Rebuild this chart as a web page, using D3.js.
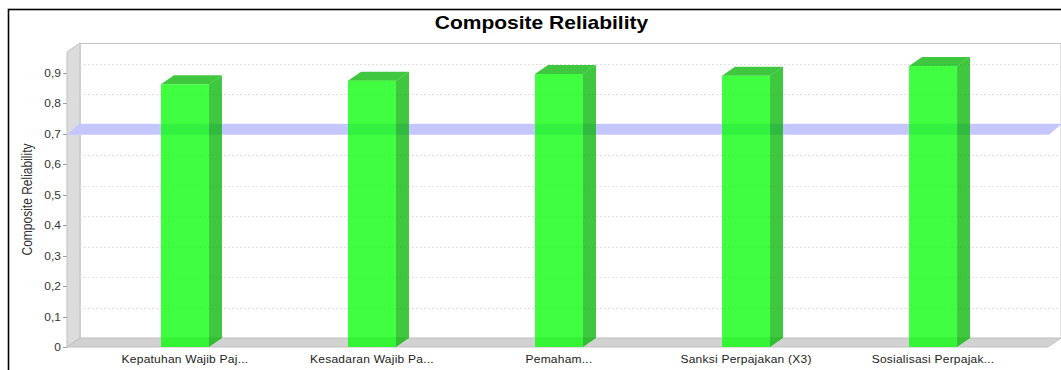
<!DOCTYPE html>
<html>
<head>
<meta charset="utf-8">
<script src="https://cdn.jsdelivr.net/npm/d3@7/dist/d3.min.js"></script>
<style>
  html, body { margin: 0; padding: 0; background: #fff; }
  svg { display: block; }
  text { font-family: "Liberation Sans", Arial, sans-serif; }
</style>
</head>
<body>
<svg id="chart" width="1061" height="370"></svg>
<script>
// Chart data
const categories = [
  "Kepatuhan Wajib Paj...",
  "Kesadaran Wajib Pa...",
  "Pemaham...",
  "Sanksi Perpajakan (X3)",
  "Sosialisasi Perpajak..."
];
const values = [0.862, 0.874, 0.896, 0.890, 0.922];
const yTicks = [0, 0.1, 0.2, 0.3, 0.4, 0.5, 0.6, 0.7, 0.8, 0.9];
const threshold = 0.7;
const title = "Composite Reliability";
const yLabel = "Composite Reliability";

// Layout
const W = 1061, H = 370;
const depthX = 13, depthY = 9;          // 3D offset of the back wall
const front = { left: 67, right: 1048, top: 52, bottom: 347 };
const stretch = 1.2;                     // horizontal glyph stretch of labels
const barWidth = 48;

const svg = d3.select("#chart");

const y = d3.scaleLinear().domain([0, 0.968]).range([front.bottom, front.top]);
const x = d3.scalePoint().domain(categories).range([69, 1049]).padding(0.62);

const fmt = v => v === 0 ? "0" : d3.format(".1f")(v).replace(".", ",");

// Outer frame
svg.append("rect")
  .attr("x", 8.5).attr("y", 9.5)
  .attr("width", W + 20).attr("height", H + 20)
  .attr("fill", "none").attr("stroke", "#000").attr("stroke-width", 1.6);

// Title
svg.append("text")
  .attr("transform", `translate(541.5,29) scale(${stretch},1)`)
  .attr("text-anchor", "middle")
  .attr("font-size", 17.5).attr("font-weight", "bold").attr("fill", "#000")
  .text(title);

// Back wall
const bx0 = front.left + depthX, bx1 = front.right + depthX;
const by0 = front.top - depthY, by1 = front.bottom - depthY;
svg.append("rect")
  .attr("x", bx0).attr("y", by0 + 0.5)
  .attr("width", bx1 - bx0).attr("height", by1 - by0)
  .attr("fill", "#fff").attr("stroke", "#c4c4c4").attr("stroke-width", 1);

// Left wall
svg.append("path")
  .attr("d", d3.line()([
    [front.left, front.top], [bx0, by0], [bx0, by1], [front.left, front.bottom]
  ]) + "Z")
  .attr("fill", "#dcdcdc").attr("stroke", "#c0c0c0").attr("stroke-width", 1);

// Floor
svg.append("path")
  .attr("d", d3.line()([
    [front.left, front.bottom], [bx0, by1], [bx1, by1], [front.right, front.bottom]
  ]) + "Z")
  .attr("fill", "#d2d2d2").attr("stroke", "#c0c0c0").attr("stroke-width", 1);

// Gridlines on back wall and their slanted part on the left wall
const grid = svg.append("g")
  .attr("stroke", "#e0e0e0").attr("stroke-width", 1).attr("stroke-dasharray", "2,2")
  .attr("fill", "none");
yTicks.filter(t => t > 0).forEach(t => {
  const yy = Math.round(y(t)) + 0.5;
  grid.append("line")
    .attr("x1", bx0).attr("x2", bx1)
    .attr("y1", yy - depthY).attr("y2", yy - depthY);
  grid.append("line")
    .attr("x1", front.left).attr("x2", bx0)
    .attr("y1", yy).attr("y2", yy - depthY);
});

// Threshold marker band spanning the plot depth
const my = y(threshold);
svg.append("path")
  .attr("d", d3.line()([
    [front.left, my + 1], [bx0 - 1, my - depthY - 1], [bx1 + 1, my - depthY - 1], [front.right + 1, my + 1]
  ]) + "Z")
  .attr("fill", "#c6c6ff");

// Bars (side, top and front faces, semi-transparent)
const bars = svg.append("g");
categories.forEach((c, i) => {
  const v = values[i];
  const x0 = x(c) - barWidth / 2, x1 = x(c) + barWidth / 2;
  const yt = y(v), yb = y(0);
  const g = bars.append("g");
  g.append("path")
    .attr("d", d3.line()([[x1, yt], [x1 + depthX, yt - depthY], [x1 + depthX, yb - depthY], [x1, yb]]) + "Z")
    .attr("fill", "#00b400").attr("fill-opacity", 0.75);
  g.append("path")
    .attr("d", d3.line()([[x0, yt], [x0 + depthX, yt - depthY], [x1 + depthX, yt - depthY], [x1, yt]]) + "Z")
    .attr("fill", "#00b400").attr("fill-opacity", 0.75);
  g.append("rect")
    .attr("x", x0).attr("y", yt).attr("width", barWidth).attr("height", yb - yt)
    .attr("fill", "#00ff00").attr("fill-opacity", 0.75);
});

// Y axis ticks and labels
const ax = svg.append("g");
yTicks.forEach(t => {
  const yy = Math.round(y(t)) + 0.5;
  ax.append("line")
    .attr("x1", front.left - 4).attr("x2", front.left)
    .attr("y1", yy).attr("y2", yy)
    .attr("stroke", "#a0a0a0");
  ax.append("text")
    .attr("transform", `translate(${front.left - 6},${yy + 3.5}) scale(${stretch},1)`)
    .attr("text-anchor", "end")
    .attr("font-size", 10).attr("fill", "#333")
    .text(fmt(t));
});

// Y axis title
svg.append("text")
  .attr("transform", `translate(32,${(front.top + front.bottom) / 2}) scale(${stretch},1) rotate(-90)`)
  .attr("text-anchor", "middle")
  .attr("font-size", 12).attr("fill", "#333")
  .text(yLabel);

// Category labels
categories.forEach(c => {
  svg.append("text")
    .attr("transform", `translate(${x(c)},363) scale(${stretch},1)`)
    .attr("text-anchor", "middle")
    .attr("font-size", 10).attr("letter-spacing", 0.2).attr("fill", "#222")
    .text(c);
});
</script>
</body>
</html>
